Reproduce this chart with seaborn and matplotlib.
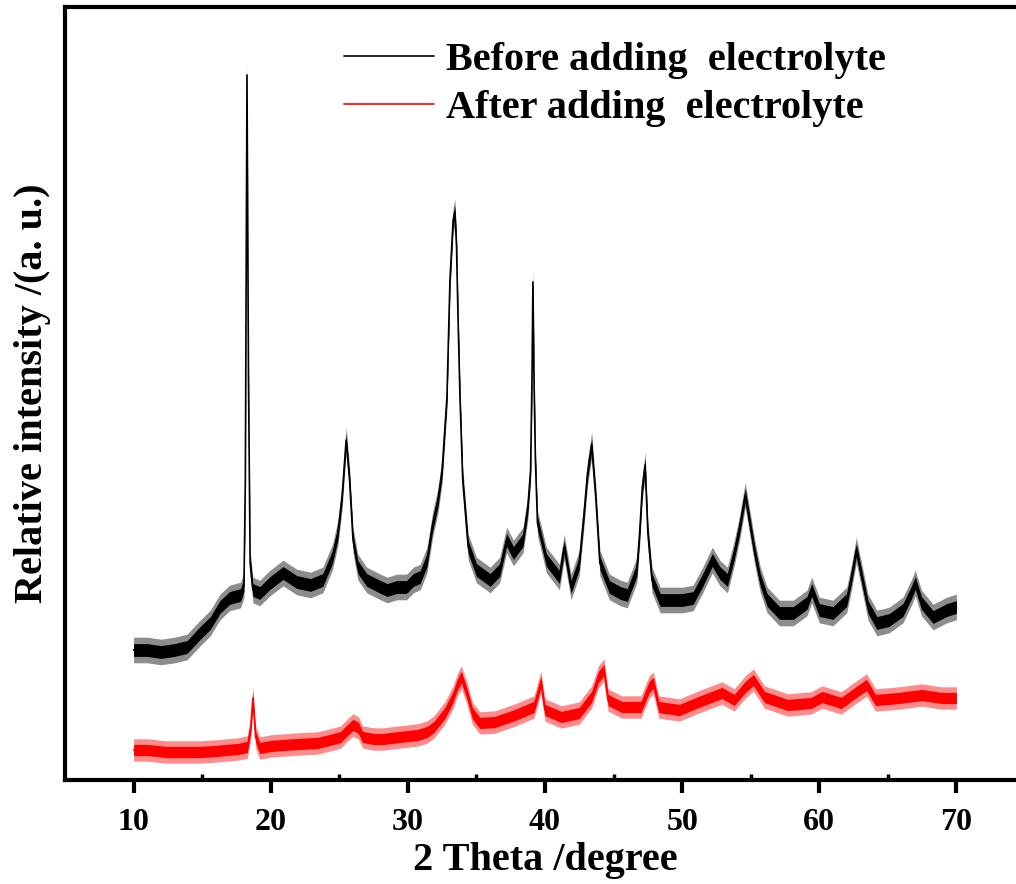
import numpy as np
import pandas as pd
import matplotlib
matplotlib.use('Agg')
import matplotlib.pyplot as plt
import seaborn as sns

# XRD patterns (intensity in arbitrary units)
theta_before = [10.0, 11.0, 12.0, 13.0, 13.9, 14.85, 15.6, 16.3, 17.0, 17.8, 18.05, 18.15, 18.27, 18.38, 18.5,
                18.7, 19.2, 19.95, 20.9, 21.9, 22.9, 23.8, 24.5, 24.9, 25.2, 25.5, 25.75, 26.0, 26.35, 27.0,
                28.0, 28.5, 29.2, 29.9, 30.4, 30.9, 31.4, 31.8, 32.2, 32.5, 32.85, 33.07, 33.3, 33.43, 33.55,
                33.65, 33.8, 34.0, 34.4, 35.0, 36.0, 36.7, 37.2, 37.7, 38.4, 38.75, 38.95, 39.05, 39.12, 39.2,
                39.3, 39.45, 40.1, 41.05, 41.4, 41.9, 42.5, 42.85, 43.1, 43.4, 43.7, 44.0, 44.7, 45.5, 46.0,
                46.7, 46.9, 47.1, 47.3, 47.5, 47.8, 48.4, 49.2, 50.0, 50.8, 51.5, 52.2, 52.75, 53.3, 53.8,
                54.2, 54.6, 54.9, 55.3, 55.7, 56.2, 57.1, 58.1, 59.1, 59.45, 60.0, 61.0, 62.0, 62.35, 62.7,
                63.1, 63.55, 64.2, 65.1, 66.1, 66.7, 67.0, 67.45, 68.3, 69.3, 70.0]
intensity_before = [130, 130, 128, 130, 133, 147, 157, 173, 182, 185, 195, 300, 705, 400, 217,
                    190, 187, 197, 207, 198, 195, 200, 223, 247, 283, 340, 300, 240, 213, 200,
                    193, 190, 193, 193, 200, 203, 220, 255, 280, 310, 383, 500, 560, 568, 533,
                    467, 383, 300, 233, 210, 200, 210, 240, 227, 240, 273, 310, 400, 498, 400,
                    320, 257, 220, 203, 233, 193, 217, 267, 307, 335, 283, 217, 193, 187, 185,
                    210, 247, 293, 315, 247, 200, 180, 180, 180, 182, 200, 220, 207, 200, 227,
                    253, 285, 260, 227, 200, 180, 167, 167, 177, 190, 170, 167, 180, 203, 230,
                    203, 173, 157, 160, 170, 187, 197, 177, 163, 170, 173]

theta_after = [10.0, 11.0, 12.4, 13.5, 14.85, 16.0, 16.8, 17.6, 18.3, 18.55, 18.7, 18.9, 19.2, 20.0, 20.9,
               22.0, 23.4, 24.3, 25.1, 25.6, 26.0, 26.4, 26.7, 27.5, 28.2, 29.4, 30.7, 31.4, 31.9, 32.7,
               33.3, 33.6, 33.9, 34.3, 34.7, 35.25, 36.35, 37.8, 39.2, 39.45, 39.7, 40.0, 41.2, 42.5, 43.4,
               43.9, 44.3, 44.6, 45.6, 47.0, 47.6, 47.9, 48.3, 49.8, 51.2, 52.9, 53.8, 54.6, 55.2, 56.0,
               57.7, 59.4, 60.2, 61.6, 62.7, 63.45, 64.1, 65.8, 67.5, 68.9, 70.0]
intensity_after = [30, 30, 28, 28, 28, 29, 30, 31, 33, 53, 82, 43, 32, 34, 35,
                   36, 37, 40, 43, 50, 55, 52, 43, 41, 41, 43, 45, 48, 53, 67,
                   83, 95, 103, 87, 67, 57, 58, 65, 73, 85, 98, 70, 63, 67, 83,
                   103, 110, 80, 73, 73, 93, 97, 73, 70, 78, 87, 80, 93, 100, 83,
                   75, 77, 83, 77, 88, 95, 80, 82, 85, 82, 82]

noise_before = 8   # half-width of the noise band
noise_after = 7

labels = ['Before adding  electrolyte', 'After adding  electrolyte']
line_colors = ['black', 'red']

df_before = pd.DataFrame({'theta': theta_before, 'intensity': intensity_before, 'sample': labels[0]})
df_after = pd.DataFrame({'theta': theta_after, 'intensity': intensity_after, 'sample': labels[1]})
df = pd.concat([df_before, df_after], ignore_index=True)

sns.set_style('ticks')
plt.rcParams['font.family'] = ['Liberation Serif', 'DejaVu Serif']
plt.rcParams['font.weight'] = 'bold'
for key in ['text.color', 'axes.edgecolor', 'axes.labelcolor', 'xtick.color', 'ytick.color']:
    plt.rcParams[key] = 'black'

fig = plt.figure(figsize=(10.16, 8.84), dpi=100)
ax = fig.add_axes([65 / 1016, 104 / 884, 960 / 1016, 773 / 884])

# noise bands
for d, nz, c in [(df_before, noise_before, line_colors[0]), (df_after, noise_after, line_colors[1])]:
    y = d['intensity'].to_numpy()
    ax.fill_between(d['theta'], y - nz * 1.6, y + nz * 1.6, color=c, alpha=0.45, lw=0)
    ax.fill_between(d['theta'], y - nz * 0.8, y + nz * 0.8, color=c, alpha=1.0, lw=0)

sns.lineplot(data=df, x='theta', y='intensity', hue='sample', palette=line_colors,
             linewidth=1.2, ax=ax, sort=False, estimator=None)

ax.set_xlim(5, 75)
ax.set_ylim(0, 773)
ax.set_yticks([])
ax.set_xticks(range(10, 80, 10))
ax.set_xticks(range(15, 75, 10), minor=True)
ax.tick_params(axis='x', which='major', direction='out', length=9, width=3, pad=11.5, labelsize=23)
ax.tick_params(axis='x', which='minor', direction='in', length=4, width=2.5)
for s in ax.spines.values():
    s.set_linewidth(3)

ax.set_xlabel('2 Theta /degree', fontsize=29, fontweight='bold', labelpad=3.5)
ax.set_ylabel('Relative intensity /(a. u.)', fontsize=29, fontweight='bold', labelpad=10)

leg = ax.legend(loc='upper left', bbox_to_anchor=(0.265, 0.986), frameon=False, fontsize=29,
                handlelength=2.25, handletextpad=0.3, labelspacing=0.26, borderaxespad=0.2)
for line in leg.get_lines():
    line.set_linewidth(1.2)
for t in leg.get_texts():
    t.set_fontweight('bold')

fig.savefig('out.png', dpi=100)
